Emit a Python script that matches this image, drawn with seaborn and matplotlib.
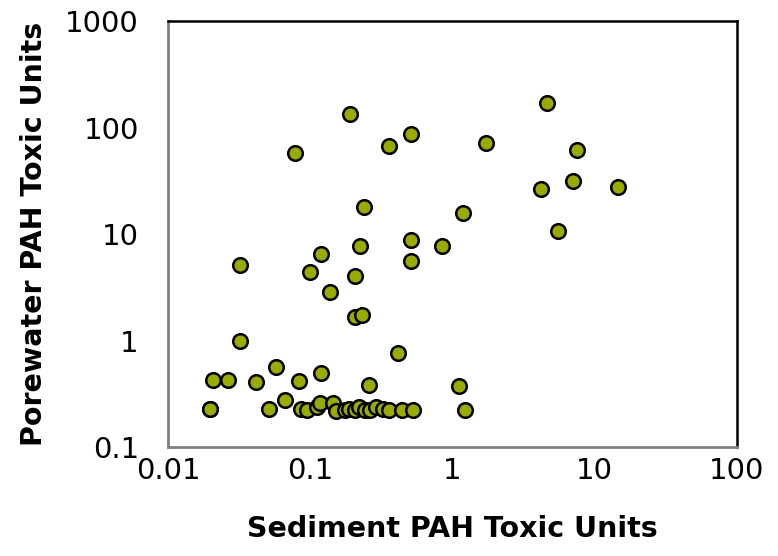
import matplotlib
matplotlib.use("Agg")
import matplotlib.pyplot as plt
import seaborn as sns
import pandas as pd
from matplotlib.ticker import FuncFormatter, LogLocator, NullLocator

# Sediment vs porewater PAH toxic units
sediment_tu = [
    0.0197, 0.0207, 0.0264, 0.032, 0.032, 0.0415, 0.057, 0.067, 0.078, 0.083,
    0.10, 0.119, 0.119, 0.137, 0.189, 0.205, 0.207, 0.225, 0.23, 0.237,
    0.26, 0.356, 0.411, 0.515, 0.51, 0.515, 0.85, 1.12, 1.19, 1.73,
    4.2, 4.6, 5.5, 7.1, 7.5, 14.6,
    # bottom row near detection limit
    0.0197, 0.0511, 0.0858, 0.0945, 0.111, 0.117, 0.144, 0.153, 0.175, 0.186,
    0.205, 0.222, 0.241, 0.262, 0.29, 0.323, 0.36, 0.445, 0.525, 1.23,
]
porewater_tu = [
    0.227, 0.426, 0.43, 0.99, 5.1, 0.41, 0.56, 0.276, 57.7, 0.42,
    4.4, 6.5, 0.496, 2.85, 134, 1.66, 4.03, 7.7, 1.74, 18,
    0.38, 67, 0.76, 86.9, 5.6, 8.8, 7.7, 0.374, 15.7, 71.5,
    26.5, 169, 10.7, 31.5, 61.5, 27.6,
    0.227, 0.227, 0.227, 0.225, 0.24, 0.26, 0.26, 0.22, 0.225, 0.23,
    0.225, 0.24, 0.225, 0.225, 0.24, 0.23, 0.225, 0.225, 0.225, 0.225,
]

df = pd.DataFrame({"sediment": sediment_tu, "porewater": porewater_tu})

sns.set_style("white")
plt.rcParams["font.family"] = ["DejaVu Sans"]
plt.rcParams["text.color"] = "black"
plt.rcParams["axes.labelcolor"] = "black"

fig = plt.figure(figsize=(7.78, 5.56), dpi=100)
ax = fig.add_axes([0.216, 0.196, 0.731, 0.766])

sns.scatterplot(data=df, x="sediment", y="porewater", ax=ax,
                color="#9aab00", edgecolor="black", linewidth=1.8, s=110,
                zorder=3)

ax.set_xscale("log")
ax.set_yscale("log")
ax.set_xlim(0.01, 100)
ax.set_ylim(0.1, 1000)

fmt = FuncFormatter(lambda v, p: "{:g}".format(v))
ax.xaxis.set_major_locator(LogLocator(base=10, numticks=10))
ax.yaxis.set_major_locator(LogLocator(base=10, numticks=10))
ax.xaxis.set_minor_locator(NullLocator())
ax.yaxis.set_minor_locator(NullLocator())
ax.xaxis.set_major_formatter(fmt)
ax.yaxis.set_major_formatter(fmt)

ax.tick_params(axis="both", direction="inout", length=14, width=1.2,
               color="#808080", labelcolor="black", labelsize=21)
ax.tick_params(axis="x", pad=0)
ax.tick_params(axis="y", pad=14)

for side in ["left", "bottom"]:
    ax.spines[side].set_color("#808080")
    ax.spines[side].set_linewidth(2)
for side in ["top", "right"]:
    ax.spines[side].set_color("black")
    ax.spines[side].set_linewidth(1.8)

ax.set_xlabel("Sediment PAH Toxic Units", fontsize=20.5, fontweight="bold",
              labelpad=22)
ax.set_ylabel("Porewater PAH Toxic Units", fontsize=20.5, fontweight="bold",
              labelpad=12)

fig.savefig("out.png", dpi=100)
